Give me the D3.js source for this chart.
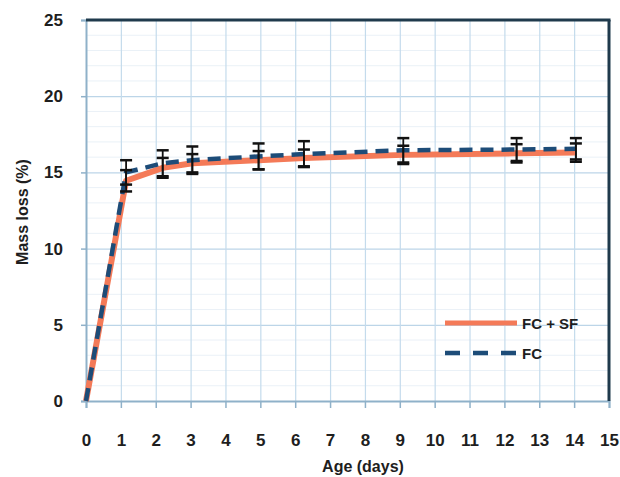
<!DOCTYPE html>
<html>
<head>
<meta charset="utf-8">
<script src="https://cdn.jsdelivr.net/npm/d3@7"></script>
<style>
  body { margin: 0; background: #fff; }
  svg text { font-family: "Liberation Sans", Arial, sans-serif; font-weight: bold; fill: #1e1e1e; }
</style>
</head>
<body>
<svg id="chart"></svg>
<script>
// Data
const ages = [0, 1.15, 2.2, 3.05, 4.95, 6.25, 9.1, 12.35, 14.05];
const fcSf = [0, 14.45, 15.3, 15.6, 15.8, 15.95, 16.15, 16.25, 16.3];
const fc = [0, 15.0, 15.6, 15.8, 16.05, 16.2, 16.45, 16.5, 16.55];
const fcSfErr = [0, 0.7, 0.65, 0.6, 0.6, 0.55, 0.6, 0.6, 0.6];
const fcErr = [0, 0.8, 0.85, 0.9, 0.85, 0.85, 0.8, 0.75, 0.7];
const xTicks = d3.range(0, 16);
const yTicks = [0, 5, 10, 15, 20, 25];
const seriesNames = ["FC + SF", "FC"];

const margin = { top: 20, right: 11, bottom: 76, left: 86 };
const width = 620 - margin.left - margin.right;
const height = 477 - margin.top - margin.bottom;

const svg = d3.select("#chart")
  .attr("width", 620)
  .attr("height", 477)
  .append("g")
  .attr("transform", "translate(" + margin.left + "," + margin.top + ")");

const x = d3.scaleLinear().domain([0, 15]).range([0, width]);
const y = d3.scaleLinear().domain([0, 25]).range([height, 0]);

// minor horizontal grid
svg.append("g")
  .selectAll("line")
  .data(d3.range(1, 25).filter(d => d % 5 !== 0))
  .enter().append("line")
  .attr("x1", 0).attr("x2", width)
  .attr("y1", d => y(d)).attr("y2", d => y(d))
  .attr("stroke", "#eaf1f7").attr("stroke-width", 1);

// major grid
svg.append("g")
  .call(d3.axisLeft(y).tickValues([5, 10, 15, 20]).tickSize(-width).tickFormat(""))
  .call(g => g.select(".domain").remove())
  .selectAll("line").attr("stroke", "#bcd5e8").attr("stroke-width", 1.2);

svg.append("g")
  .call(d3.axisBottom(x).tickValues(d3.range(1, 15)).tickSize(height).tickFormat(""))
  .call(g => g.select(".domain").remove())
  .selectAll("line").attr("stroke", "#c4dbec").attr("stroke-width", 1.2);

// x axis
const xAxis = svg.append("g")
  .attr("transform", "translate(0," + height + ")")
  .call(d3.axisBottom(x).tickValues(xTicks).tickSize(7).tickPadding(26));
xAxis.select(".domain").attr("stroke", "#8fb1c9").attr("stroke-width", 2);
xAxis.selectAll("line").attr("stroke", "#8fb1c9").attr("stroke-width", 1.5);
xAxis.selectAll("text").style("font-size", "17px").attr("fill", "#1e1e1e");

// y axis
const yAxis = svg.append("g")
  .call(d3.axisLeft(y).tickValues(yTicks).tickSize(5).tickPadding(18));
yAxis.select(".domain").attr("stroke", "#8fb1c9").attr("stroke-width", 2);
yAxis.selectAll("line").attr("stroke", "#8fb1c9").attr("stroke-width", 1.5);
yAxis.selectAll("text").style("font-size", "17px").attr("fill", "#1e1e1e");

// top and right border
svg.append("line").attr("x1", 0).attr("x2", width + 1.5).attr("y1", 0).attr("y2", 0)
  .attr("stroke", "#1f3a4c").attr("stroke-width", 3);
svg.append("line").attr("x1", width).attr("x2", width).attr("y1", 0).attr("y2", height)
  .attr("stroke", "#1f3a4c").attr("stroke-width", 3);

// lines
const line = d3.line();
const sfPts = ages.map((a, i) => [x(a), y(fcSf[i])]);
const fcPts = ages.map((a, i) => [x(a), y(fc[i])]);

svg.append("path")
  .attr("d", line(sfPts))
  .attr("fill", "none").attr("stroke", "#f47a58").attr("stroke-width", 6)
  .attr("stroke-linejoin", "round");

svg.append("path")
  .attr("d", line(fcPts))
  .attr("fill", "none").attr("stroke", "#1d4c78").attr("stroke-width", 4.5)
  .attr("stroke-dasharray", "13,8");

// error bars
function errorBars(vals, errs) {
  const g = svg.append("g").attr("stroke", "#111").attr("stroke-width", 1.8);
  ages.forEach((a, i) => {
    if (i === 0) return;
    const cx = x(a), lo = y(vals[i] - errs[i]), hi = y(vals[i] + errs[i]);
    g.append("line").attr("x1", cx).attr("x2", cx).attr("y1", lo).attr("y2", hi);
    g.append("line").attr("x1", cx - 6).attr("x2", cx + 6).attr("y1", lo).attr("y2", lo).attr("stroke-width", 2.5);
    g.append("line").attr("x1", cx - 6).attr("x2", cx + 6).attr("y1", hi).attr("y2", hi).attr("stroke-width", 2.5);
  });
}
errorBars(fcSf, fcSfErr);
errorBars(fc, fcErr);

// legend
const legend = svg.append("g").attr("transform", "translate(" + (445 - margin.left) + "," + (323 - margin.top) + ")");
legend.append("line").attr("x1", 0).attr("x2", 72).attr("y1", 0).attr("y2", 0)
  .attr("stroke", "#f47a58").attr("stroke-width", 5);
legend.append("line").attr("x1", 0).attr("x2", 72).attr("y1", 30).attr("y2", 30)
  .attr("stroke", "#1d4c78").attr("stroke-width", 4.5).attr("stroke-dasharray", "15,13");
legend.selectAll("text.leg")
  .data(seriesNames)
  .enter().append("text")
  .attr("class", "leg")
  .attr("x", 77)
  .attr("y", (d, i) => i * 30 + 5.5)
  .style("font-size", "15px")
  .text(d => d);

// axis titles
svg.append("text")
  .attr("x", 363 - margin.left)
  .attr("y", 472 - margin.top)
  .attr("text-anchor", "middle")
  .style("font-size", "16px")
  .text("Age (days)");

svg.append("text")
  .attr("transform", "translate(" + (28 - margin.left) + "," + (212 - margin.top) + ") rotate(-90)")
  .attr("text-anchor", "middle")
  .style("font-size", "16px")
  .text("Mass loss (%)");
</script>
</body>
</html>
